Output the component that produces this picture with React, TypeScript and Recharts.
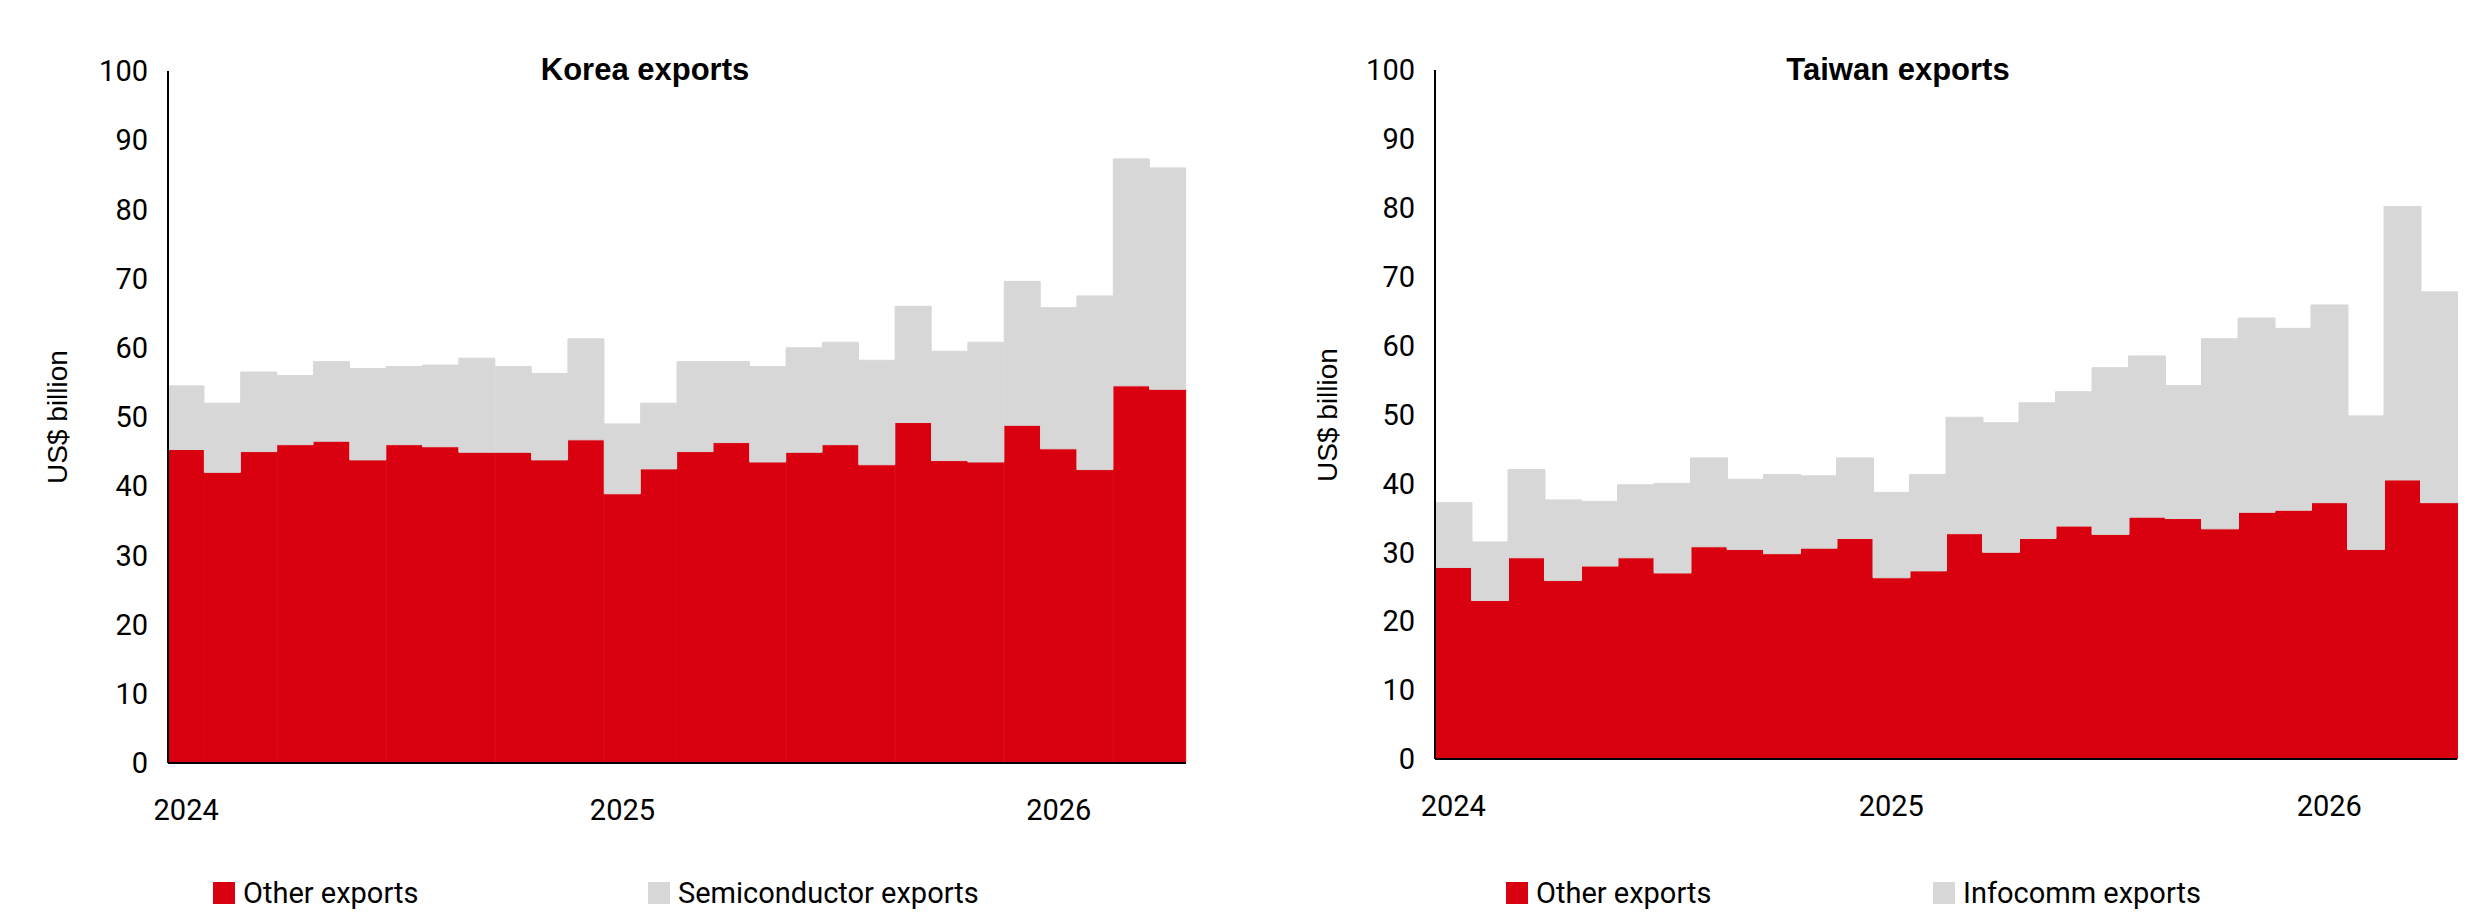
import React from 'react';
import { BarChart, Bar, XAxis, YAxis } from 'recharts';

const months = Array.from({ length: 28 }, (_, i) => `${2024 + Math.floor(i / 12)}-${(i % 12) + 1}`);
const yTicks = [0, 10, 20, 30, 40, 50, 60, 70, 80, 90, 100];

const koreaTotal = [54.5, 52, 56.5, 56, 58, 57, 57.3, 57.5, 58.5, 57.3, 56.3, 61.3, 49, 52, 58, 58, 57.3, 60, 60.8, 58.2, 66, 59.5, 60.8, 69.6, 65.8, 67.5, 87.3, 86];
const koreaOther = [45.3, 42, 45, 46, 46.5, 43.8, 46, 45.7, 44.9, 44.9, 43.8, 46.7, 38.9, 42.5, 45, 46.3, 43.5, 44.9, 46, 43.1, 49.2, 43.7, 43.5, 48.8, 45.4, 42.4, 54.5, 54];
const taiwanTotal = [37.2, 31.5, 42, 37.6, 37.4, 39.8, 40, 43.7, 40.6, 41.3, 41.1, 43.7, 38.7, 41.3, 49.6, 48.8, 51.7, 53.3, 56.8, 58.5, 54.2, 61, 64, 62.5, 65.9, 49.8, 80.2, 67.8];
const taiwanOther = [27.8, 23, 29.2, 25.9, 28, 29.2, 27, 30.8, 30.4, 29.8, 30.6, 32, 26.3, 27.3, 32.7, 30, 32, 33.8, 32.6, 35.1, 34.9, 33.4, 35.8, 36.1, 37.2, 30.4, 40.5, 37.2];

const FONT = '"Roboto", sans-serif';
const RED = '#d9000f';
const GREY = '#d7d7d7';

function Chart({ title, total, other, otherName, secondName, left, right, top, bottom, legendPos, yLabelX, titleX }: any) {
  const data = months.map((m, i) => ({ m, other: other[i], second: +(total[i] - other[i]).toFixed(2) }));
  const plotH = 903 - top - bottom;
  return (
    <div style={{ position: 'relative', width: 1240, height: 903 }}>
      <div style={{ position: 'absolute', top: 44, left: titleX - 300, width: 600, textAlign: 'center', fontFamily: '"Liberation Sans", sans-serif', fontWeight: 'bold', fontSize: 31, zIndex: 2 }}>{title}</div>
      <div style={{ position: 'absolute', left: yLabelX - 150, top: top + plotH / 2 - 20, width: 300, height: 40, lineHeight: '40px', textAlign: 'center', transform: 'rotate(-90deg)', fontFamily: '"Liberation Sans", sans-serif', fontSize: 28, zIndex: 2 }}>US$ billion</div>
      {[{ n: otherName, c: RED, x: legendPos[0] }, { n: secondName, c: GREY, x: legendPos[1] }].map((it) => (
        <div key={it.n} style={{ position: 'absolute', left: it.x, top: 868, display: 'flex', alignItems: 'center', fontFamily: FONT, fontSize: 29 }}>
          <span style={{ width: 22, height: 22, background: it.c, display: 'inline-block', marginRight: 8 }} />
          <span>{it.n}</span>
        </div>
      ))}
      <BarChart width={1240} height={903} data={data} barCategoryGap={0} barGap={0} margin={{ top, right, bottom: bottom - 70, left: 0 }}>
        <XAxis dataKey="m" interval={0} tickLine={false} axisLine={{ stroke: '#000', strokeWidth: 2 }}
          tick={{ fontSize: 29, fill: '#000', fontFamily: FONT }} tickMargin={30}
          tickFormatter={(v: string) => (v.endsWith('-1') ? v.slice(0, 4) : '')} height={70} />
        <YAxis domain={[0, 100]} ticks={yTicks} interval={0} width={left} tickLine={false}
          axisLine={{ stroke: '#000', strokeWidth: 2 }} tick={{ fontSize: 29, fill: '#000', fontFamily: FONT }} tickMargin={14} />
        <Bar dataKey="other" name={otherName} stackId="a" fill={RED} stroke={RED} strokeWidth={1} isAnimationActive={false} />
        <Bar dataKey="second" name={secondName} stackId="a" fill={GREY} stroke={GREY} strokeWidth={1} isAnimationActive={false} />
      </BarChart>
    </div>
  );
}

export default function App() {
  return (
    <div style={{ display: 'flex', width: 2480 }}>
      <Chart title="Korea exports" total={koreaTotal} other={koreaOther} otherName="Other exports" secondName="Semiconductor exports"
        left={160} right={62} top={63} bottom={148} legendPos={[205, 640]} yLabelX={50} titleX={637} />
      <Chart title="Taiwan exports" total={taiwanTotal} other={taiwanOther} otherName="Other exports" secondName="Infocomm exports"
        left={187} right={31} top={62} bottom={152} legendPos={[258, 685]} yLabelX={80} titleX={650} />
    </div>
  );
}
